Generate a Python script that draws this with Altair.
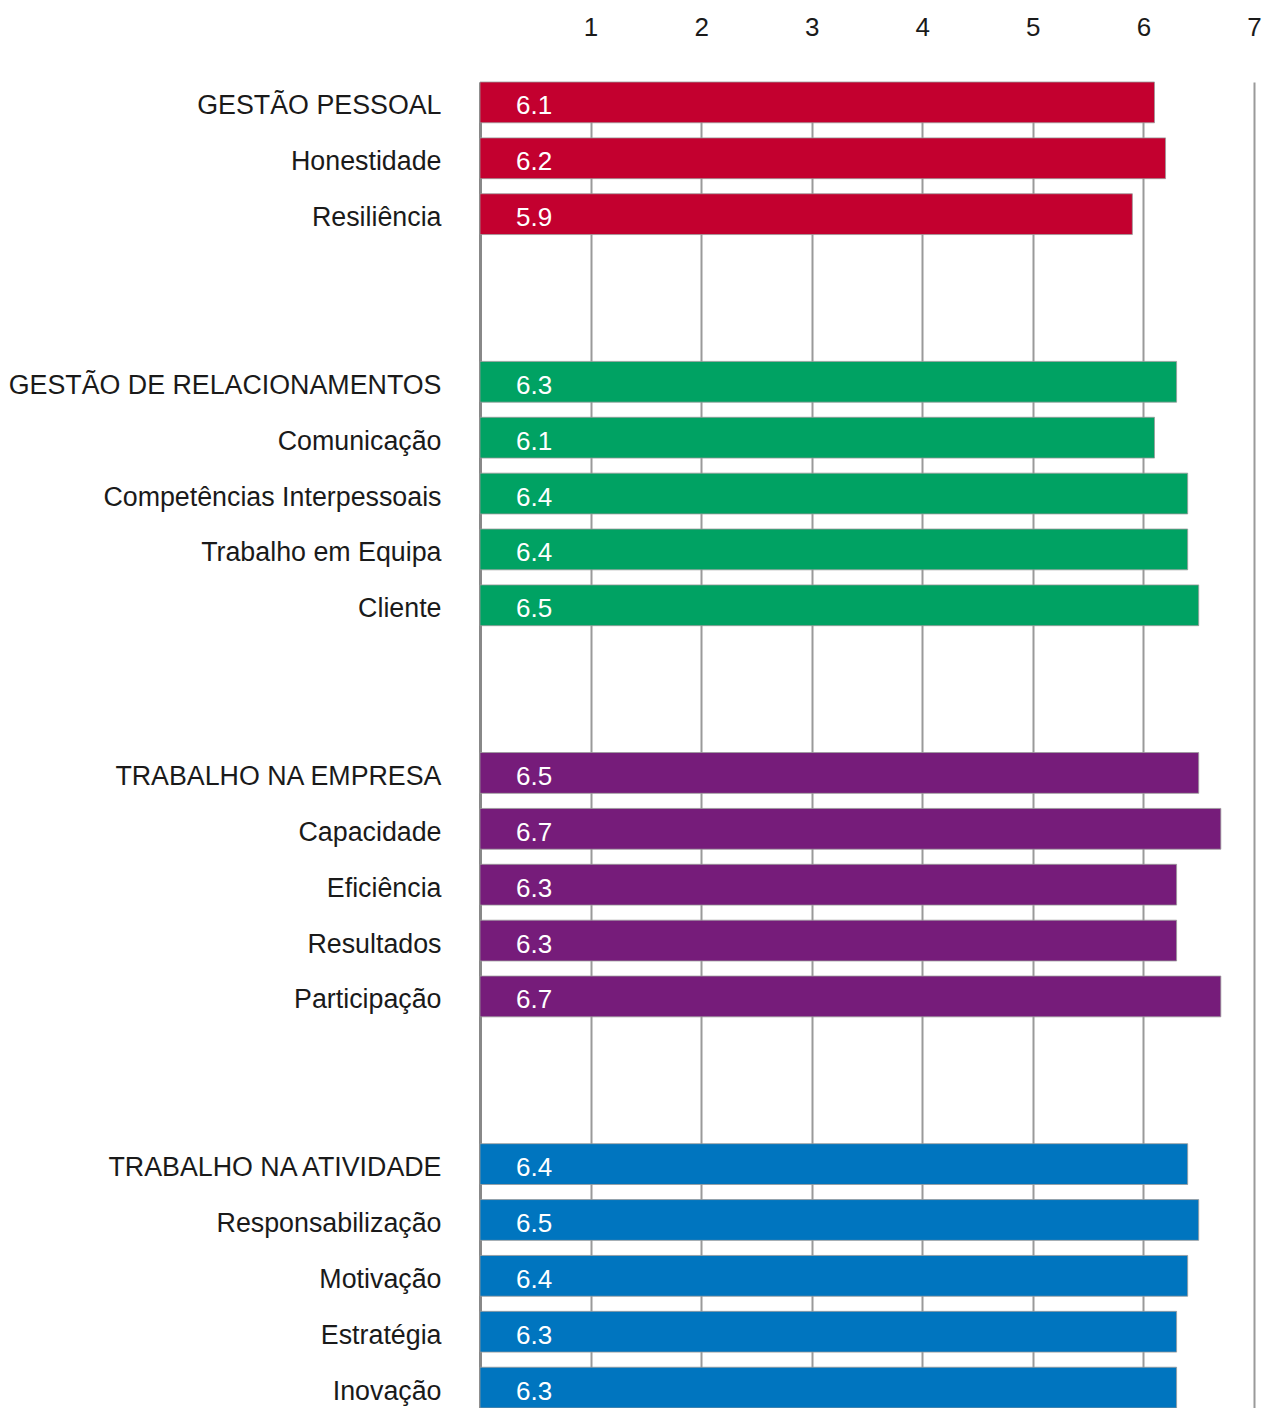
import altair as alt
import pandas as pd

group_names = ["GESTÃO PESSOAL", "GESTÃO DE RELACIONAMENTOS", "TRABALHO NA EMPRESA", "TRABALHO NA ATIVIDADE"]
group_colors = ["#C3002F", "#00A263", "#761C7A", "#0075BF"]

categories = [
    "GESTÃO PESSOAL", "Honestidade", "Resiliência",
    "GESTÃO DE RELACIONAMENTOS", "Comunicação", "Competências Interpessoais", "Trabalho em Equipa", "Cliente",
    "TRABALHO NA EMPRESA", "Capacidade", "Eficiência", "Resultados", "Participação",
    "TRABALHO NA ATIVIDADE", "Responsabilização", "Motivação", "Estratégia", "Inovação",
]
values = [6.1, 6.2, 5.9,
          6.3, 6.1, 6.4, 6.4, 6.5,
          6.5, 6.7, 6.3, 6.3, 6.7,
          6.4, 6.5, 6.4, 6.3, 6.3]
groups = ([group_names[0]] * 3 + [group_names[1]] * 5 +
          [group_names[2]] * 5 + [group_names[3]] * 5)
x_ticks = [1, 2, 3, 4, 5, 6, 7]

df = pd.DataFrame({"categoria": categories, "valor": values, "grupo": groups})

# row order with blank spacer rows between groups
order = []
spacer_id = 0
prev = None
for c, g in zip(categories, groups):
    if prev is not None and g != prev:
        for _ in range(2):
            spacer_id += 1
            order.append(" " * spacer_id)
    order.append(c)
    prev = g

pad_inner = 0.27
height = 1326
FONT = "Liberation Sans"

y_enc = alt.Y(
    "categoria:N",
    sort=order,
    scale=alt.Scale(domain=order, paddingInner=pad_inner, paddingOuter=0),
    axis=alt.Axis(
        title=None, ticks=False, tickSize=0, labelPadding=39, labelOffset=4,
        labelFontSize=26.8, labelFont=FONT, labelColor="#1a1a1a",
        domain=True, domainColor="#888888", domainWidth=3,
        labelLimit=600,
    ),
)

x_enc = alt.X(
    "valor:Q",
    scale=alt.Scale(domain=[0, 7], nice=False, zero=True),
    axis=alt.Axis(
        orient="top", title=None, values=x_ticks, format="d",
        ticks=False, tickSize=0, domain=False, labelFlush=False,
        grid=True, gridColor="#9a9a9a", gridWidth=2,
        labelFontSize=26, labelFont=FONT, labelColor="#1a1a1a",
        labelPadding=47, labelBaseline="alphabetic",
    ),
)

color_enc = alt.Color(
    "grupo:N",
    scale=alt.Scale(domain=group_names, range=group_colors),
    legend=None,
)

bars = alt.Chart(df).mark_bar(stroke="#9a9a9a", strokeWidth=0.8).encode(
    x=x_enc, y=y_enc, color=color_enc
)

labels = alt.Chart(df).mark_text(
    align="left", baseline="middle", color="white", fontSize=26, font=FONT, dy=4
).encode(
    x=alt.value(36),
    y=alt.Y("categoria:N", sort=order),
    text=alt.Text("valor:Q", format=".1f"),
)

chart = alt.layer(bars, labels).properties(
    width=774, height=height,
    autosize=alt.AutoSizeParams(type="none"),
    padding={"left": 472, "top": 74, "right": 8, "bottom": 0},
).configure_view(stroke=None)

chart.save("out.html", embed_options={"renderer": "svg", "actions": False})
